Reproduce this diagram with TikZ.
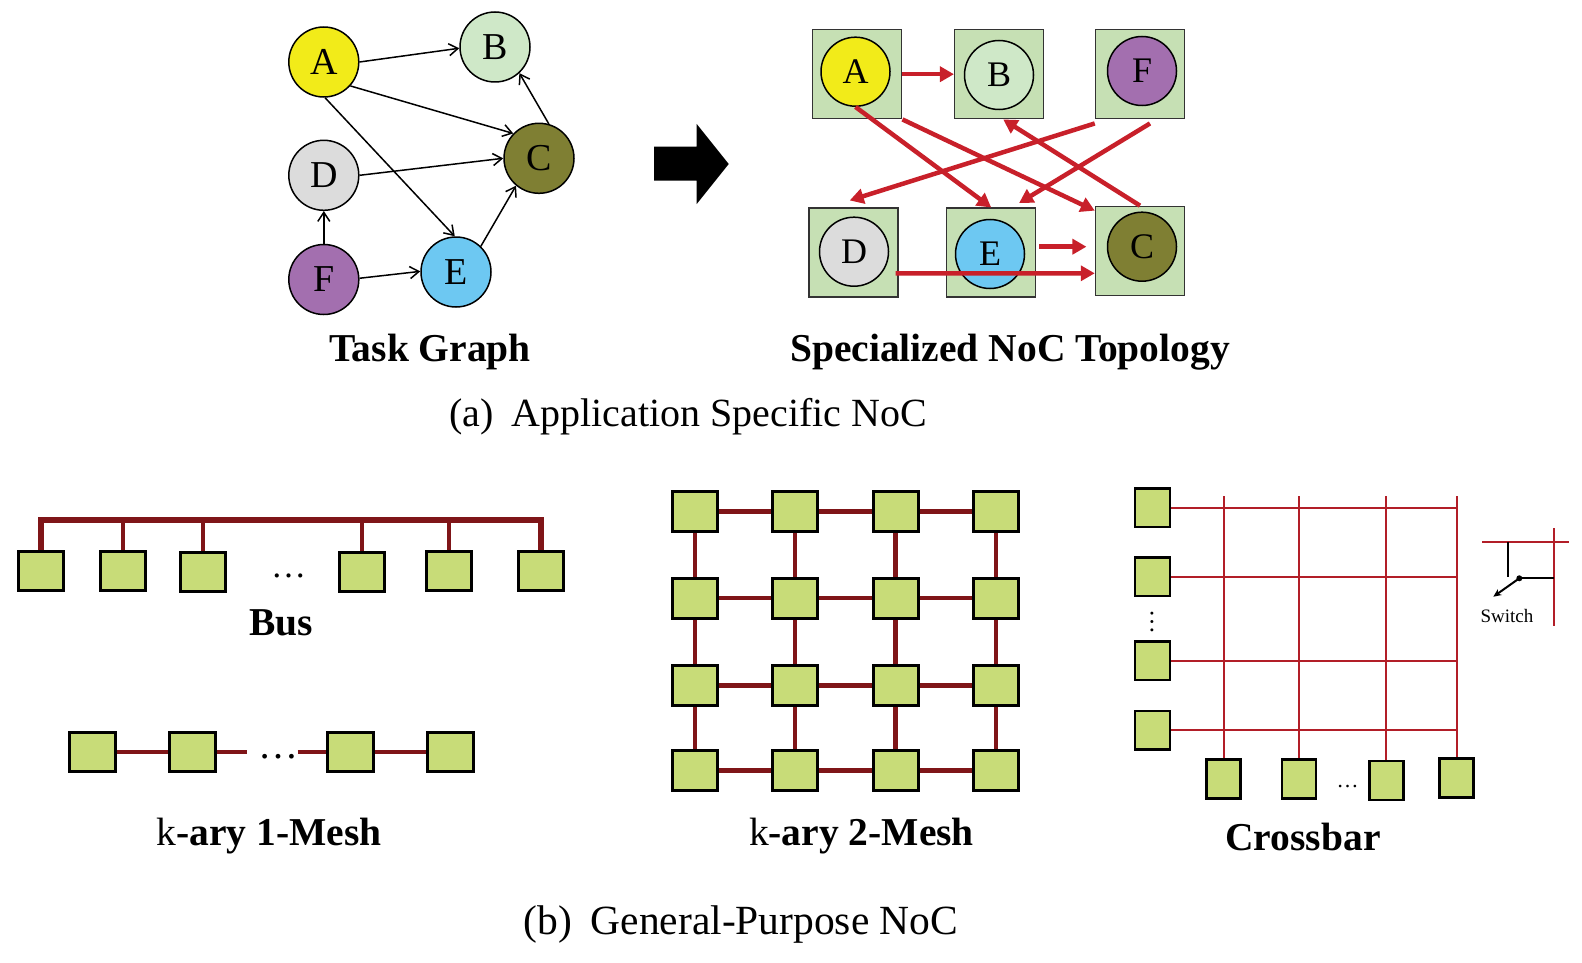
\documentclass[tikz,border=0pt]{standalone}
\usepackage{fontspec}
\setmainfont{Liberation Serif}
\usetikzlibrary{arrows.meta,calc}
\definecolor{colA}{RGB}{242,235,25}
\definecolor{colB}{RGB}{207,232,200}
\definecolor{colC}{RGB}{127,127,51}
\definecolor{colD}{RGB}{220,220,220}
\definecolor{colE}{RGB}{109,200,242}
\definecolor{colF}{RGB}{163,111,175}
\definecolor{boxgreen}{RGB}{198,224,180}
\definecolor{pegreen}{RGB}{200,220,120}
\definecolor{linkred}{RGB}{127,21,24}
\definecolor{arrred}{RGB}{200,32,42}
\definecolor{xred}{RGB}{178,30,40}
\begin{document}
\begin{tikzpicture}[x=1pt,y=-1pt,
  tnode/.style={circle,draw=black,line width=1.5pt,minimum size=70pt,inner sep=0pt,font=\fontsize{38}{40}\selectfont},
  rbox/.style={rectangle,draw=black!80,line width=1.5pt,fill=boxgreen,minimum size=89pt,inner sep=0pt},
  ncirc/.style={circle,draw=black,line width=1.5pt,minimum size=69pt,inner sep=0pt,font=\fontsize{36}{38}\selectfont},
  pe/.style={rectangle,draw=black,line width=3pt,fill=pegreen,minimum width=45pt,minimum height=39pt,inner sep=0pt},
  xpe/.style={pe,line width=2.5pt,minimum width=34pt,minimum height=39pt},
  tedge/.style={draw=black,line width=1.5pt,-{Straight Barb[length=9pt,width=12pt]}},
  redarr/.style={draw=arrred,line width=4.5pt,-{Triangle[length=14pt,width=15pt]}},
  link/.style={draw=linkred,line width=4.5pt},
  xline/.style={draw=xred,line width=2pt},
  lab/.style={anchor=base,inner sep=0pt,font=\fontsize{39.5}{41}\selectfont\bfseries},
  captxt/.style={anchor=base,inner sep=0pt,font=\fontsize{40}{42}\selectfont},
  dotstxt/.style={anchor=base,inner sep=0pt}
]
\useasboundingbox (0,0) rectangle (1582,963);

% ---------------- Task graph ----------------
\node[tnode,fill=colA] (A) at (323.8,62) {A};
\node[tnode,fill=colB] (B) at (495,47) {B};
\node[tnode,fill=colC] (C) at (539,158.3) {C};
\node[tnode,fill=colD] (D) at (323.8,175.3) {D};
\node[tnode,fill=colE] (E) at (456,272) {E};
\node[tnode,fill=colF] (F) at (323.8,279.5) {F};
\draw[tedge] (A.0) -- (B.182);
\draw[tedge] (A.-42) -- (C.136);
\draw[tedge] (A.-88) -- (E.92);
\draw[tedge] (D.0) -- (C.180);
\draw[tedge] (F.90) -- (D.-90);
\draw[tedge] (F.2) -- (E.179);
\draw[tedge] (E.46) -- (C.-130);
\draw[tedge] (C.74) -- (B.-47);

% big arrow
\fill[black] (654,146.7) -- (696.7,146.7) -- (696.7,124) -- (728.7,164) -- (696.7,204) -- (696.7,180.7) -- (654,180.7) -- cycle;

% ---------------- Specialized NoC ----------------
\node[rbox] (bA) at (857.2,74.2) {};
\node[rbox] (bB) at (999.2,74.2) {};
\node[rbox] (bF) at (1140,74.2) {};
\node[rbox] (bD) at (853.7,252.7) {};
\node[rbox] (bE) at (991.2,252.7) {};
\node[rbox] (bC) at (1140,250.9) {};
\node[ncirc,fill=colA] (cA) at (855.5,71.7) {A};
\node[ncirc,fill=colB] (cB) at (999,75) {B};
\node[ncirc,fill=colF] (cF) at (1142,71) {F};
\node[ncirc,fill=colD] (cD) at (854,251.7) {D};
\node[ncirc,fill=colE] (cE) at (990,254) {E};
\node[ncirc,fill=colC] (cC) at (1142,246.7) {C};
\draw[redarr] (bA.east) -- (bB.west);
\draw[redarr] (cA.south) -- (bE.north);
\draw[redarr] (bA.south east) -- ($(bC.north west)+(0,5)$);
\draw[redarr] ($(bF.south west)+(0,4)$) -- ($(bD.north)+(-4,-7)$);
\draw[redarr] ($(bF.south)+(10,4)$) -- ($(bE.north east)+(-17.4,-4.4)$);
\draw[redarr] (bC.north) -- ($(bB.south)+(4,0)$);
\draw[redarr] ($(bE.east)+(2.6,-6)$) -- ($(bC.west)+(-8.3,-4.2)$);
\draw[redarr] ($(bD.east)+(-3.3,20.6)$) -- ($(bC.west)+(0,22.4)$);

\node[lab] (tg) at (430,361.7) {Task Graph};
\node[lab] (sn) at (1010,361.7) {Specialized NoC Topology};
\node[captxt] (capa) at (688,426) {(a)\hspace{0.45em}Application Specific NoC};

% ---------------- Bus ----------------
\node[pe] (bus1) at (40.8,570.5) {};
\node[pe] (bus2) at (122.9,570.8) {};
\node[pe] (bus3) at (203.2,571.7) {};
\node[pe] (bus4) at (362.2,571.7) {};
\node[pe] (bus5) at (448.9,571) {};
\node[pe] (bus6) at (540.8,570.8) {};
\coordinate (bustop) at (0,520);
\draw[link,line width=5.5pt] (bus1.north) -- (bus1.north |- bustop) -- (bus6.north |- bustop) -- (bus6.north);
\foreach \k in {2,...,5} \draw[link,line width=4pt] (bus\k.north) -- (bus\k.north |- bustop);
\node[dotstxt,font=\fontsize{35}{37}\selectfont] (busdots) at (288.5,577) {…};
\node[lab] (buslab) at (281,635) {Bus};

% ---------------- 1-Mesh ----------------
\node[pe,minimum width=46pt] (m1) at (92,752) {};
\node[pe,minimum width=46pt] (m2) at (192,752) {};
\node[pe,minimum width=46pt] (m3) at (350.3,752) {};
\node[pe,minimum width=46pt] (m4) at (450.5,752) {};
\coordinate (mgapL) at (247.3,752);
\coordinate (mgapR) at (297.7,752);
\draw[link,line width=4pt] (m1.east) -- (m2.west);
\draw[link,line width=4pt] (m2.east) -- (mgapL);
\draw[link,line width=4pt] (mgapR) -- (m3.west);
\draw[link,line width=4pt] (m3.east) -- (m4.west);
\node[dotstxt,font=\fontsize{40}{42}\selectfont] (mdots) at (278.3,758) {…};
\node[lab] (m1lab) at (269,845) {{\mdseries k}-ary 1-Mesh};

% ---------------- 2-Mesh ----------------
\foreach \i/\x in {1/695,2/795,3/895.7,4/996.2}
  \foreach \j/\y in {1/511.3,2/598,3/685.3,4/770.7}
    \node[pe,minimum height=40pt] (g\i\j) at (\x,\y) {};
\foreach \i [evaluate=\i as \n using int(\i+1)] in {1,2,3}
  \foreach \j in {1,2,3,4} {
    \draw[link] (g\i\j.east) -- (g\n\j.west);
    \draw[link] (g\j\i.south) -- (g\j\n.north);
  }
\node[lab] (m2lab) at (861.5,845) {{\mdseries k}-ary 2-Mesh};

% ---------------- Crossbar ----------------
\node[xpe,minimum width=35pt,minimum height=38.5pt] (xl1) at (1152.5,507.5) {};
\node[xpe,minimum width=35pt,minimum height=38.5pt] (xl2) at (1152.5,576.7) {};
\node[xpe,minimum width=35pt,minimum height=38.5pt] (xl3) at (1152.5,660.5) {};
\node[xpe,minimum width=35pt,minimum height=38.5pt] (xl4) at (1152.5,730) {};
\node[xpe] (xb1) at (1223.7,779.2) {};
\node[xpe] (xb2) at (1299.2,779.2) {};
\node[xpe] (xb3) at (1386.3,780.5) {};
\node[xpe] (xb4) at (1456.7,777.8) {};
\coordinate (xtop) at (0,496);
\foreach \k in {1,...,4} \draw[xline] (xb\k.north) -- (xb\k.north |- xtop);
\foreach \k in {1,...,4} \draw[xline] (xl\k.east) -- (xl\k.east -| xb4.north);
\node[dotstxt,rotate=90,font=\fontsize{25}{27}\selectfont] (xvdots) at (1153,621.7) {…};
\node[dotstxt,font=\fontsize{22}{24}\selectfont] (xhdots) at (1347.5,787.5) {…};
\node[lab] (xlab) at (1303,850) {Crossbar};

% switch inset
\coordinate (swh1) at (1482.3,541.7);
\coordinate (swh2) at (1569.3,541.7);
\coordinate (swv1) at (1554.3,528.3);
\coordinate (swv2) at (1554.3,626);
\coordinate (swa) at (1507.7,541.7);
\coordinate (swb) at (1507.7,577.3);
\coordinate (swdot) at (1519.3,578.3);
\coordinate (swend) at (1493.3,596.7);
\draw[xline] (swh1) -- (swh2);
\draw[xline] (swv1) -- (swv2);
\draw[black,line width=2pt] (swa) -- (swb);
\draw[black,line width=2pt] (swdot) -- (swdot -| swv1);
\draw[black,line width=2pt,-{Stealth[length=8pt,width=7pt]}] (swdot) -- (swend);
\fill[black] (swdot) circle (3);
\node[anchor=base,inner sep=0pt,font=\fontsize{19}{21}\selectfont] (swlab) at (1507,622) {Switch};

\node[captxt,font=\fontsize{41.5}{43}\selectfont] (capb) at (741,934) {(b)\hspace{0.45em}General-Purpose NoC};
\end{tikzpicture}
\end{document}
